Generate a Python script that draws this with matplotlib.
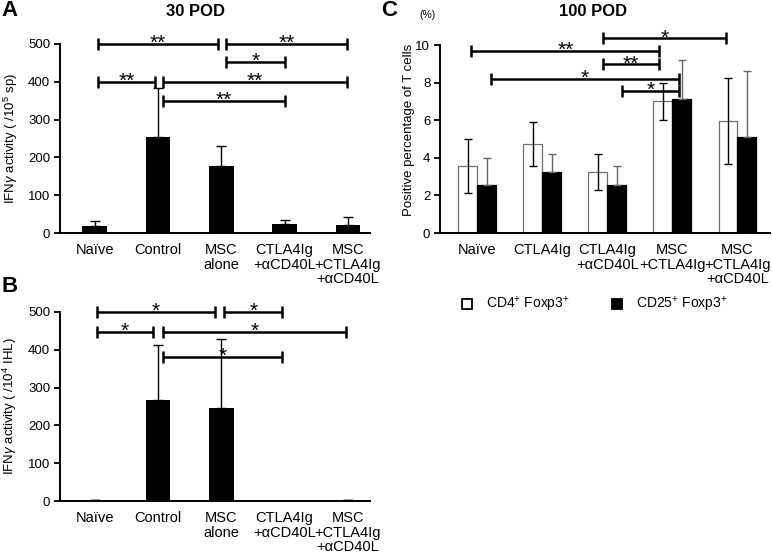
import numpy as np
import matplotlib
matplotlib.use("Agg")
import matplotlib.pyplot as plt
from matplotlib.patches import Patch

plt.rcParams['font.family'] = ['Liberation Sans', 'DejaVu Sans']
plt.rcParams['mathtext.fontset'] = 'custom'
plt.rcParams['mathtext.rm'] = 'Liberation Sans'
plt.rcParams['mathtext.it'] = 'Liberation Sans:italic'
plt.rcParams['mathtext.bf'] = 'Liberation Sans:bold'

# ---------------- data ----------------
cats_ab = ["Naïve", "Control", "MSC\nalone", "CTLA4Ig\n+αCD40L", "MSC\n+CTLA4Ig\n+αCD40L"]
a_vals = [19, 255, 178, 24, 21]
a_err = [13, 129, 51, 10, 21]
b_vals = [2, 266, 245, 1, 2]
b_err = [0, 148, 184, 0, 0]

cats_c = ["Naïve", "CTLA4Ig", "CTLA4Ig\n+αCD40L", "MSC\n+CTLA4Ig", "MSC\n+CTLA4Ig\n+αCD40L"]
c_cd4 = [3.56, 4.72, 3.24, 7.0, 5.95]
c_cd4_err = [1.43, 1.17, 0.96, 1.0, 2.3]
c_cd25 = [2.57, 3.22, 2.57, 7.12, 5.09]
c_cd25_err = [1.44, 0.97, 1.0, 2.08, 3.54]

# significance brackets: (x_start, x_end, y, label)
a_sig = [(0.05, 1.95, 500, "**"), (2.08, 3.98, 500, "**"), (2.08, 3.0, 452, "*"),
         (0.05, 0.95, 400, "**"), (1.08, 3.98, 400, "**"), (1.08, 3.0, 350, "**")]
b_sig = [(0.03, 1.9, 500, "*"), (2.05, 2.96, 500, "*"), (0.03, 0.92, 448, "*"),
         (1.08, 3.97, 448, "*"), (1.08, 2.96, 381, "*")]
c_sig = [(1.93, 3.83, 10.35, "*"), (-0.09, 2.8, 9.68, "**"), (1.93, 2.8, 8.97, "**"),
         (0.21, 3.1, 8.2, "*"), (2.22, 3.1, 7.57, "*")]

W, H = 772, 554
fig = plt.figure(figsize=(W / 100, H / 100), dpi=100)


def ax_rect(l, r, t, b):
    return [l / W, 1 - b / H, (r - l) / W, (b - t) / H]


def style(ax, lim_top, step):
    for s in ['top', 'right']:
        ax.spines[s].set_visible(False)
    for s in ['left', 'bottom']:
        ax.spines[s].set_linewidth(1.4)
    ax.set_ylim(0, lim_top)
    ax.set_yticks(np.arange(0, lim_top + step / 2, step))
    ax.tick_params(axis='y', length=4, width=1.3, labelsize=9.5, pad=3)
    ax.tick_params(axis='x', length=0, labelsize=10.5, pad=7)


def brackets(ax, sig, fs=15):
    for x1, x2, y, lab in sig:
        ax.plot([x1, x2], [y, y], color='black', lw=1.8, clip_on=False,
                marker='|', markersize=8, mew=1.8, solid_capstyle='butt')
        ax.annotate(lab, xy=((x1 + x2) / 2, y), xytext=(0, -3.6), textcoords='offset points',
                    ha='center', va='baseline', fontsize=fs, annotation_clip=False)


def panel_ab(ax, vals, errs, sig, ylabel, lx):
    x = np.arange(len(cats_ab))
    ax.bar(x, vals, width=0.39, color='black', zorder=2)
    ax.errorbar(x, vals, yerr=[np.zeros(len(errs)), errs], fmt='none', ecolor='black',
                elinewidth=1.0, capsize=3.5, capthick=1.0, zorder=3)
    ax.set_xlim(-0.55, 4.35)
    style(ax, 500, 100)
    ax.set_xticks(x)
    ax.set_xticklabels(cats_ab, linespacing=1.08, va='top')
    ax.set_ylabel(ylabel, fontsize=9.5)
    ax.yaxis.set_label_coords(lx, 0.5)
    brackets(ax, sig)


axA = fig.add_axes(ax_rect(60, 370, 44, 233))
panel_ab(axA, a_vals, a_err, a_sig, r"IFN$\gamma$ activity ( /10$^{5}$ sp)", -0.128)
axB = fig.add_axes(ax_rect(60, 370, 312, 501))
panel_ab(axB, b_vals, b_err, b_sig, r"IFN$\gamma$ activity ( /10$^{4}$ IHL)", -0.132)

# panel C
axC = fig.add_axes(ax_rect(440, 770, 45, 233))
xc = np.arange(len(cats_c))
bw = 0.29
axC.bar(xc - bw / 2, c_cd4, width=bw, color='white', edgecolor='#707070', lw=0.9, zorder=2)
axC.bar(xc + bw / 2, c_cd25, width=bw, color='black', edgecolor='black', lw=0.9, zorder=2)
axC.errorbar(xc - bw / 2, c_cd4, yerr=c_cd4_err, fmt='none', ecolor='black',
             elinewidth=1.0, capsize=3, capthick=1.0, zorder=3)
axC.errorbar(xc + bw / 2, c_cd25, yerr=[np.zeros(len(c_cd25_err)), c_cd25_err], fmt='none',
             ecolor='#666666', elinewidth=1.0, capsize=3, capthick=1.0, zorder=3)
axC.set_xlim(-0.57, 4.5)
style(axC, 10, 2)
axC.set_xticks(xc)
axC.set_xticklabels(cats_c, linespacing=1.08, va='top')
axC.set_ylabel("Positive percentage of T cells", fontsize=9.5)
axC.yaxis.set_label_coords(-0.076, 0.55)
brackets(axC, c_sig)

# titles and panel letters
fig.text(196 / W, 1 - 11 / H, "30 POD", ha='center', va='center', fontsize=12, fontweight='bold')
fig.text(593 / W, 1 - 12 / H, "100 POD", ha='center', va='center', fontsize=12, fontweight='bold')
fig.text(10 / W, 1 - 10 / H, "A", ha='center', va='center', fontsize=16, fontweight='bold')
fig.text(10 / W, 1 - 287 / H, "B", ha='center', va='center', fontsize=16, fontweight='bold')
fig.text(389 / W, 1 - 10 / H, "C", ha='center', va='center', fontsize=16, fontweight='bold')
fig.text(428 / W, 1 - 15 / H, "(%)", ha='center', va='center', fontsize=7.5)

handles = [Patch(facecolor='white', edgecolor='black', lw=1.3),
           Patch(facecolor='black', edgecolor='black', lw=1.3)]
fig.legend(handles, [r"CD4$^{+}$ Foxp3$^{+}$", r"CD25$^{+}$ Foxp3$^{+}$"],
           loc='center left', bbox_to_anchor=(462 / W, 1 - 305 / H), ncol=2,
           frameon=False, fontsize=10, handlelength=0.75, handleheight=0.75,
           handletextpad=1.0, columnspacing=3.0, borderpad=0, borderaxespad=0)

fig.savefig("out.png", dpi=100)
